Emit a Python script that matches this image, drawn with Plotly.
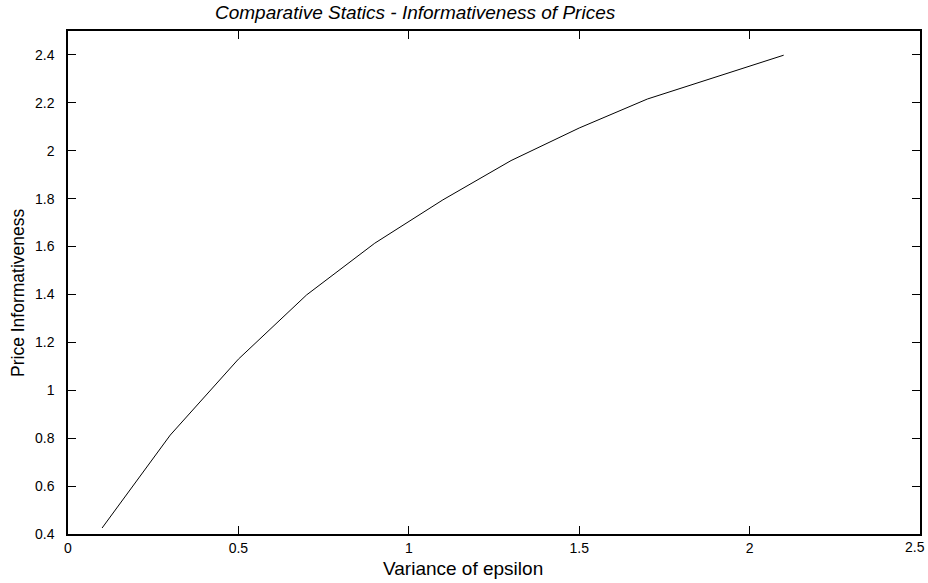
import plotly.graph_objects as go

variance = [0.1, 0.3, 0.5, 0.7, 0.9, 1.1, 1.3, 1.5, 1.7, 1.9, 2.1]
informativeness = [0.425, 0.813, 1.13, 1.398, 1.614, 1.795, 1.959, 2.095, 2.216, 2.308, 2.399]

x_ticks = [0, 0.5, 1, 1.5, 2, 2.5]
x_tick_text = ["0", "0.5", "1", "1.5", "2", "2.5"]
y_ticks = [0.4, 0.6, 0.8, 1.0, 1.2, 1.4, 1.6, 1.8, 2.0, 2.2, 2.4]
y_tick_text = ["0.4", "0.6", "0.8", "1", "1.2", "1.4", "1.6", "1.8", "2", "2.2", "2.4"]

FONT = "Liberation Sans, Arial, sans-serif"

fig = go.Figure()
fig.add_trace(go.Scatter(x=variance, y=informativeness, mode="lines",
                         line=dict(color="black", width=1), showlegend=False,
                         hoverinfo="x+y"))

axis_common = dict(showgrid=False, zeroline=False, showline=True, linecolor="black",
                   linewidth=1.5, mirror="ticks", ticks="inside", ticklen=8,
                   tickcolor="black", tickwidth=1, automargin=False,
                   ticklabeloverflow="allow")

# last x tick label would run past the page edge; draw it as an annotation nudged left
shown_x_text = x_tick_text[:-1] + [""]

fig.update_xaxes(range=[0, 2.5], tickvals=x_ticks, ticktext=shown_x_text,
                 ticklabelstandoff=0,
                 tickfont=dict(family=FONT, size=14, color="black"), **axis_common)
fig.update_yaxes(range=[0.4, 2.5], tickvals=y_ticks, ticktext=y_tick_text,
                 ticklabelstandoff=9,
                 tickfont=dict(family=FONT, size=14, color="black"), **axis_common)

fig.update_layout(
    width=928, height=583,
    margin=dict(l=68, r=8, t=31, b=49),
    paper_bgcolor="white", plot_bgcolor="white",
    font=dict(family=FONT, color="black"),
    annotations=[
        dict(text="<i>Comparative Statics - Informativeness of Prices</i>",
             xref="paper", yref="paper", x=(415 - 68) / 852, y=1 + (31 - 12) / 503,
             xanchor="center", yanchor="middle", showarrow=False,
             font=dict(family=FONT, size=19, color="black")),
        dict(text="Variance of epsilon", xref="paper", yref="paper",
             x=(463 - 68) / 852, y=-(568 - 534) / 503, xanchor="center", yanchor="middle",
             showarrow=False, font=dict(family=FONT, size=19, color="black")),
        dict(text="Price Informativeness", xref="paper", yref="paper",
             x=-(68 - 18) / 852, y=(534 - 293) / 503, xanchor="center", yanchor="middle",
             textangle=-90, showarrow=False, font=dict(family=FONT, size=17.5, color="black")),
        dict(text=x_tick_text[-1], xref="x", yref="paper", x=x_ticks[-1],
             y=-(547 - 534) / 503, xanchor="right", xshift=7, yanchor="middle",
             showarrow=False, font=dict(family=FONT, size=14, color="black")),
    ],
)

fig.write_html("out.html")
